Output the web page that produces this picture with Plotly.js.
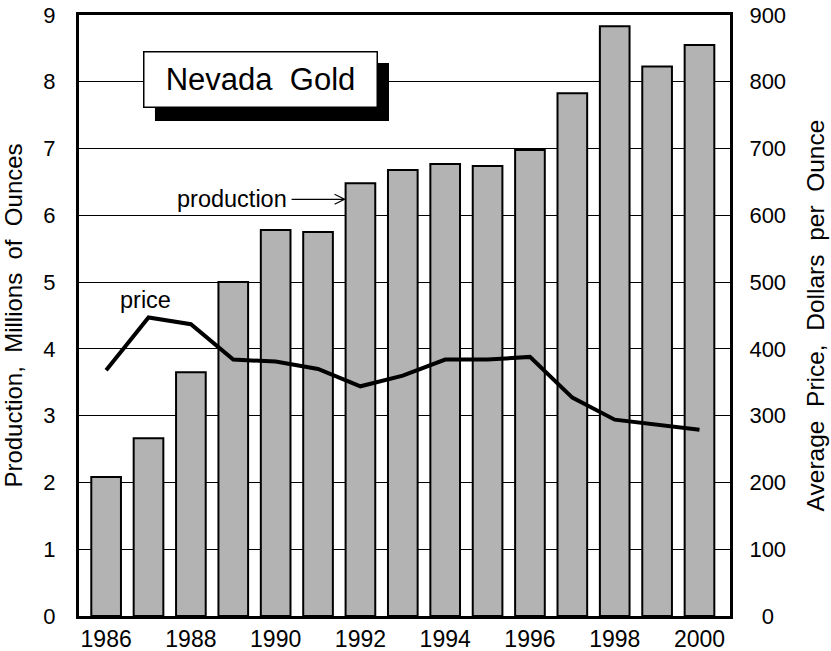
<!DOCTYPE html>
<html>
<head>
<meta charset="utf-8">
<script src="https://cdn.plot.ly/plotly-3.0.1.min.js"></script>
<style>
  html, body { margin: 0; padding: 0; background: #fff; }
  #chart { width: 831px; height: 651px; }
</style>
</head>
<body>
<div id="chart"></div>
<script>
// Data
const years = [1986, 1987, 1988, 1989, 1990, 1991, 1992, 1993, 1994, 1995, 1996, 1997, 1998, 1999, 2000];
const production = [2.08, 2.66, 3.65, 5.0, 5.78, 5.75, 6.48, 6.68, 6.77, 6.74, 6.98, 7.83, 8.83, 8.23, 8.55];
const price = [368, 447, 437, 384, 381, 370, 344, 360, 384, 384, 388, 327, 294, 286, 279];
const leftTicks = [0, 1, 2, 3, 4, 5, 6, 7, 8, 9];
const rightTicks = [0, 100, 200, 300, 400, 500, 600, 700, 800, 900];
const rightTickText = ['\u20070', '100', '200', '300', '400', '500', '600', '700', '800', '900'];
const xTicks = [1986, 1988, 1990, 1992, 1994, 1996, 1998, 2000];

const FONT = 'Liberation Sans, Arial, sans-serif';

const traces = [
  {
    type: 'bar',
    x: years,
    y: production,
    width: 0.7,
    marker: { color: '#b3b3b3', line: { color: '#000', width: 2 } },
    yaxis: 'y',
    hoverinfo: 'x+y'
  },
  {
    type: 'scatter',
    mode: 'lines',
    x: years,
    y: price,
    line: { color: '#000', width: 4 },
    yaxis: 'y2',
    hoverinfo: 'x+y'
  }
];

const layout = {
  width: 831,
  height: 651,
  margin: { l: 79, r: 101, t: 15, b: 35, pad: 0 },
  paper_bgcolor: '#fff',
  plot_bgcolor: '#fff',
  showlegend: false,
  font: { family: FONT, size: 22, color: '#000' },
  xaxis: {
    range: [1985.36, 2000.72],
    tickvals: xTicks,
    ticks: '',
    showgrid: false,
    zeroline: false,
    showline: true,
    linecolor: '#000',
    linewidth: 3,
    mirror: true,
    ticklabelstandoff: 0,
    tickfont: { size: 23 }
  },
  yaxis: {
    range: [0, 9],
    tickvals: leftTicks,
    ticks: '',
    showgrid: true,
    gridcolor: '#000',
    gridwidth: 1,
    zeroline: false,
    showline: true,
    linecolor: '#000',
    linewidth: 3,
    mirror: true,
    ticklabelstandoff: 16,
    tickfont: { size: 22 },
    title: { text: 'Production,  Millions  of  Ounces', font: { size: 24 }, standoff: 14 }
  },
  yaxis2: {
    range: [0, 900],
    overlaying: 'y',
    side: 'right',
    tickvals: rightTicks,
    ticktext: rightTickText,
    ticks: '',
    showgrid: false,
    zeroline: false,
    showline: true,
    linecolor: '#000',
    linewidth: 3,
    ticklabelstandoff: 12,
    tickfont: { size: 22 },
    title: { text: 'Average  Price,  Dollars  per  Ounce', font: { size: 24.5 }, standoff: 22 }
  },
  shapes: [
    {
      type: 'rect', xref: 'paper', yref: 'paper',
      x0: 0.1167, x1: 0.4762, y0: 0.8236, y1: 0.9201,
      fillcolor: '#000', line: { width: 0 }, layer: 'above'
    },
    {
      type: 'path', xref: 'x', yref: 'y',
      xsizemode: 'pixel', ysizemode: 'pixel',
      xanchor: 1991.65, yanchor: 6.24,
      path: 'M-54,0 L-1,0 M-11,5 L-1,0 L-11,-5',
      line: { color: '#000', width: 1.2 }, layer: 'above'
    }
  ],
  annotations: [
    {
      xref: 'paper', yref: 'paper', x: 0.2788, y: 0.8927,
      xanchor: 'center', yanchor: 'middle',
      text: 'Nevada  Gold', showarrow: false,
      font: { family: FONT, size: 31, color: '#000' },
      bgcolor: '#fff', bordercolor: '#000', borderwidth: 1.5, borderpad: 0,
      width: 232, height: 54
    },
    {
      xref: 'x', yref: 'y', x: 1988.97, y: 6.24,
      xanchor: 'center', yanchor: 'middle',
      text: 'production', showarrow: false,
      font: { family: FONT, size: 23.5, color: '#000' }
    },
    {
      xref: 'x', yref: 'y', x: 1986.92, y: 4.73,
      xanchor: 'center', yanchor: 'middle',
      text: 'price', showarrow: false,
      font: { family: FONT, size: 23.5, color: '#000' }
    }
  ]
};

Plotly.newPlot('chart', traces, layout, { displayModeBar: false, staticPlot: true });
</script>
</body>
</html>
